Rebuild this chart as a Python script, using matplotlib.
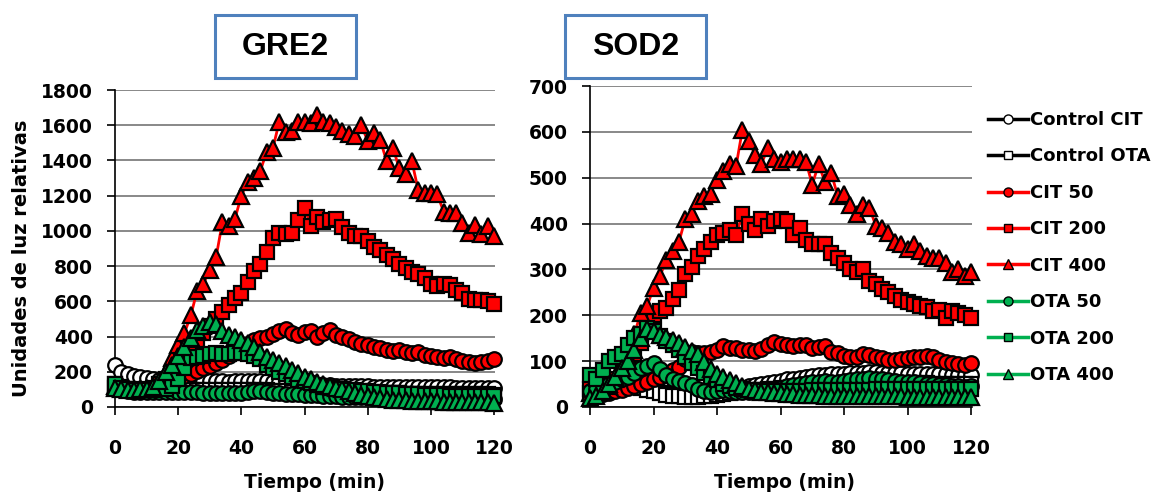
import numpy as np
import matplotlib
matplotlib.use('Agg')
import matplotlib.pyplot as plt
from matplotlib.patches import Rectangle
from matplotlib.lines import Line2D
from matplotlib import font_manager

# time axis (min), one reading every 2 min
tiempo = list(range(0, 121, 2))

labels = ['Control CIT', 'Control OTA', 'CIT 50', 'CIT 200', 'CIT 400',
          'OTA 50', 'OTA 200', 'OTA 400']

# ---- GRE2 ----
gre2_ctrl_cit = [240, 200, 185, 175, 170, 165, 160, 155, 150, 150,
                 148, 145, 145, 148, 150, 150, 148, 145, 142, 145,
                 148, 150, 150, 148, 145, 142, 140, 138, 135, 132,
                 130, 128, 126, 125, 124, 122, 120, 120, 118, 118,
                 117, 116, 116, 115, 115, 114, 114, 113, 113, 112,
                 112, 112, 111, 111, 110, 110, 110, 110, 110, 110,
                 110]
gre2_ctrl_ota = [130, 115, 105, 100, 98, 95, 95, 95, 95, 95,
                 95, 95, 95, 95, 95, 95, 95, 95, 95, 95,
                 95, 95, 95, 95, 95, 92, 90, 90, 88, 88,
                 86, 85, 85, 84, 83, 82, 82, 81, 80, 80,
                 80, 79, 78, 78, 77, 77, 76, 76, 75, 75,
                 75, 74, 74, 73, 73, 72, 72, 72, 71, 71,
                 70]
gre2_cit50 = [110, 100, 95, 90, 90, 95, 100, 110, 120, 140,
              160, 175, 190, 205, 220, 235, 250, 265, 290, 310,
              340, 360, 380, 390, 400, 415, 430, 445, 420, 410,
              425, 430, 400, 420, 440, 410, 400, 385, 370, 360,
              350, 340, 335, 325, 320, 325, 315, 305, 310, 295,
              290, 285, 280, 285, 270, 260, 255, 250, 255, 260,
              270]
gre2_cit200 = [110, 100, 95, 90, 95, 100, 110, 130, 160, 200,
               250, 300, 340, 380, 420, 460, 500, 540, 580, 620,
               650, 710, 770, 810, 880, 960, 990, 980, 990, 1060,
               1130, 1030, 1080, 1050, 1060, 1070, 1020, 990, 970, 970,
               940, 910, 890, 865, 840, 810, 790, 765, 755, 730,
               700, 685, 700, 695, 665, 645, 615, 610, 605, 600,
               585]
gre2_cit400 = [120, 110, 105, 100, 105, 110, 120, 150, 200, 280,
               350, 420, 520, 660, 700, 780, 850, 1050, 1030, 1070,
               1200, 1280, 1300, 1340, 1450, 1470, 1620, 1560, 1570, 1620,
               1620, 1610, 1660, 1620, 1610, 1590, 1570, 1550, 1540, 1600,
               1510, 1555, 1515, 1395, 1470, 1355, 1325, 1395, 1230, 1215,
               1215, 1210, 1110, 1100, 1100, 1045, 990, 1035, 980, 1025,
               970]
gre2_ota50 = [100, 95, 90, 88, 88, 88, 88, 88, 88, 88,
              88, 88, 85, 85, 82, 80, 80, 80, 78, 78,
              80, 85, 92, 90, 85, 80, 78, 76, 75, 72,
              70, 68, 66, 64, 62, 60, 58, 57, 56, 55,
              54, 53, 52, 51, 50, 50, 49, 48, 48, 47,
              47, 46, 46, 45, 45, 45, 44, 44, 44, 43,
              43]
gre2_ota200 = [130, 110, 100, 95, 95, 95, 98, 100, 105, 120,
               160, 220, 280, 285, 290, 300, 305, 300, 300, 305,
               305, 300, 290, 270, 240, 220, 200, 185, 170, 155,
               145, 135, 125, 115, 110, 105, 100, 98, 95, 92,
               90, 88, 85, 82, 80, 78, 76, 74, 72, 70,
               68, 67, 66, 65, 64, 63, 62, 61, 60, 60,
               60]
gre2_ota400 = [110, 100, 95, 95, 100, 105, 115, 150, 200, 240,
               290, 340, 390, 440, 460, 485, 470, 430, 409, 400,
               380, 361, 343, 310, 286, 265, 248, 230, 210, 195,
               172, 160, 144, 130, 120, 110, 100, 90, 80, 70,
               62, 55, 50, 45, 42, 40, 38, 36, 35, 34,
               33, 32, 31, 30, 30, 29, 28, 28, 27, 27,
               25]

# ---- SOD2 ----
sod2_ctrl_cit = [40, 40, 42, 45, 50, 55, 55, 55, 50, 45,
                 40, 35, 30, 28, 25, 25, 25, 25, 28, 30,
                 32, 35, 38, 40, 42, 45, 47, 50, 52, 55,
                 57, 60, 62, 64, 66, 68, 70, 70, 72, 72,
                 73, 74, 75, 75, 76, 76, 75, 75, 74, 74,
                 73, 73, 72, 72, 72, 71, 71, 70, 70, 70,
                 70]
sod2_ctrl_ota = [30, 30, 32, 35, 40, 42, 45, 45, 42, 38,
                 35, 30, 27, 25, 23, 22, 22, 22, 23, 25,
                 26, 28, 30, 32, 33, 35, 36, 38, 39, 40,
                 41, 42, 43, 44, 45, 46, 47, 48, 48, 49,
                 50, 50, 51, 51, 52, 52, 52, 52, 52, 52,
                 52, 52, 52, 52, 51, 51, 51, 50, 50, 50,
                 50]
sod2_cit50 = [20, 25, 28, 30, 35, 38, 42, 45, 50, 55,
              60, 65, 72, 80, 88, 105, 120, 118, 117, 120,
              125, 132, 128, 128, 125, 124, 122, 126, 135, 142,
              138, 135, 132, 135, 135, 128, 130, 132, 121, 117,
              112, 110, 110, 115, 114, 110, 106, 103, 103, 104,
              106, 110, 110, 112, 108, 103, 99, 96, 94, 92,
              95]
sod2_cit200 = [40, 40, 45, 50, 60, 75, 95, 115, 140, 170,
               200, 210, 215, 235, 255, 290, 305, 330, 345, 360,
               375, 380, 385, 375, 420, 400, 385, 410, 395, 405,
               410, 405, 375, 390, 365, 355, 355, 355, 335, 325,
               315, 300, 295, 300, 275, 268, 258, 250, 243, 233,
               230, 225, 220, 218, 210, 212, 195, 210, 205, 200,
               195]
sod2_cit400 = [30, 30, 35, 45, 60, 80, 110, 160, 205, 220,
               260, 285, 320, 340, 360, 410, 420, 450, 460, 465,
               495, 515, 530, 525, 605, 580, 550, 530, 565, 540,
               535, 540, 540, 540, 535, 485, 530, 490, 510, 460,
               465, 440, 420, 440, 435, 395, 390, 380, 360, 355,
               345, 355, 340, 330, 325, 325, 315, 295, 300, 285,
               295]
sod2_ota50 = [35, 40, 45, 50, 55, 60, 65, 75, 85, 90,
              95, 82, 70, 60, 56, 52, 48, 40, 35, 33,
              35, 37, 35, 33, 32, 33, 35, 37, 38, 40,
              42, 45, 48, 50, 53, 55, 55, 56, 55, 55,
              56, 58, 60, 62, 63, 62, 60, 58, 56, 55,
              55, 54, 52, 50, 50, 48, 47, 46, 45, 44,
              45]
sod2_ota200 = [70, 60, 80, 100, 108, 115, 135, 150, 160, 172,
               165, 155, 145, 136, 125, 110, 95, 85, 75, 65,
               58, 50, 45, 42, 40, 38, 36, 35, 35, 34,
               34, 34, 35, 35, 35, 36, 36, 36, 37, 37,
               37, 38, 38, 38, 38, 39, 39, 39, 39, 40,
               40, 40, 40, 40, 40, 40, 40, 40, 40, 40,
               40]
sod2_ota400 = [20, 25, 35, 50, 65, 85, 100, 125, 150, 170,
               165, 158, 152, 146, 140, 130, 122, 115, 98, 82,
               72, 65, 58, 52, 45, 40, 36, 33, 32, 30,
               30, 28, 28, 27, 27, 26, 26, 25, 25, 25,
               25, 24, 24, 24, 24, 23, 23, 23, 23, 23,
               22, 22, 22, 22, 22, 22, 22, 22, 22, 22,
               22]

gre2_series = [gre2_ctrl_cit, gre2_ctrl_ota, gre2_cit50, gre2_cit200,
               gre2_cit400, gre2_ota50, gre2_ota200, gre2_ota400]
sod2_series = [sod2_ctrl_cit, sod2_ctrl_ota, sod2_cit50, sod2_cit200,
               sod2_cit400, sod2_ota50, sod2_ota200, sod2_ota400]

RED = '#FF0000'
GREEN = '#00B050'
# (line colour, marker face, marker, size)
styles = [('black', 'white', 'o', 10.5), ('black', 'white', 's', 10),
          (RED, RED, 'o', 10.5), (RED, RED, 's', 10), (RED, RED, '^', 11.5),
          (GREEN, GREEN, 'o', 10.5), (GREEN, GREEN, 's', 10), (GREEN, GREEN, '^', 11.5)]


def pick_narrow():
    try:
        font_manager.findfont(font_manager.FontProperties(family='Liberation Sans Narrow', weight='bold'),
                              fallback_to_default=False)
        return 'Liberation Sans Narrow', 25
    except Exception:
        return 'Liberation Sans', 23


plt.rcParams['font.family'] = ['DejaVu Sans']
plt.rcParams['font.weight'] = 'bold'
narrow, title_size = pick_narrow()

W, H = 1155, 500
fig = plt.figure(figsize=(W / 100, H / 100), dpi=100)


def fx(px):
    return px / W


def fy(py):
    return 1 - py / H


def draw_panel(ax, series, ymax, ystep):
    for data, (lc, fc, mk, ms) in zip(series, styles):
        ax.plot(tiempo, data, color=lc, lw=2.0, marker=mk, markersize=ms,
                markerfacecolor=fc, markeredgecolor='black', markeredgewidth=1.6,
                clip_on=False, zorder=3)
    ax.set_xlim(0, 120.3)
    ax.set_ylim(0, ymax)
    ax.set_xticks(range(0, 121, 20))
    ax.set_yticks(range(0, ymax + 1, ystep))
    ax.grid(axis='y', color='#7f7f7f', lw=1.3, zorder=0)
    ax.set_axisbelow(True)
    for s in ['top', 'right']:
        ax.spines[s].set_visible(False)
    for s in ['left', 'bottom']:
        ax.spines[s].set_color('black')
        ax.spines[s].set_linewidth(1.2)
    ax.tick_params(axis='y', length=6, width=1.2, pad=10, labelsize=13.5)
    ax.tick_params(axis='x', length=6, width=1.2, pad=17, labelsize=13.5)


ax1 = fig.add_axes([fx(115), fy(407), fx(380), 317 / H])
draw_panel(ax1, gre2_series, 1800, 200)
ax2 = fig.add_axes([fx(590), fy(407), fx(382), 321 / H])
draw_panel(ax2, sod2_series, 700, 100)

fig.text(fx(22), fy(258), 'Unidades de luz relativas', rotation=90,
         ha='center', va='center', fontsize=14, fontweight='bold')
fig.text(fx(314), fy(483), 'Tiempo (min)', ha='center', va='center',
         fontsize=13.5, fontweight='bold')
fig.text(fx(785), fy(483), 'Tiempo (min)', ha='center', va='center',
         fontsize=13.5, fontweight='bold')

# boxed titles
for title, x0, x1 in [('GRE2', 215, 356), ('SOD2', 565, 706)]:
    fig.patches.append(Rectangle((fx(x0), fy(78)), fx(x1 - x0), 63 / H,
                                 transform=fig.transFigure, facecolor='white',
                                 edgecolor='#4F81BD', lw=2.2))
    fig.text(fx((x0 + x1) / 2), fy(47), title, ha='center', va='center',
             fontsize=title_size, fontweight='bold', family=narrow)

handles = [Line2D([], [], color=lc, lw=2.5, marker=mk, markersize=ms,
                  markerfacecolor=fc, markeredgecolor='black', markeredgewidth=1.0)
           for (lc, fc, mk, ms) in styles]
fig.legend(handles, labels, loc='upper left', bbox_to_anchor=(fx(988), fy(111)),
           frameon=False, fontsize=13, handlelength=2.2, handletextpad=0.15,
           labelspacing=1.02, markerscale=0.62, borderpad=0, borderaxespad=0)

fig.savefig('out.png', dpi=100)
